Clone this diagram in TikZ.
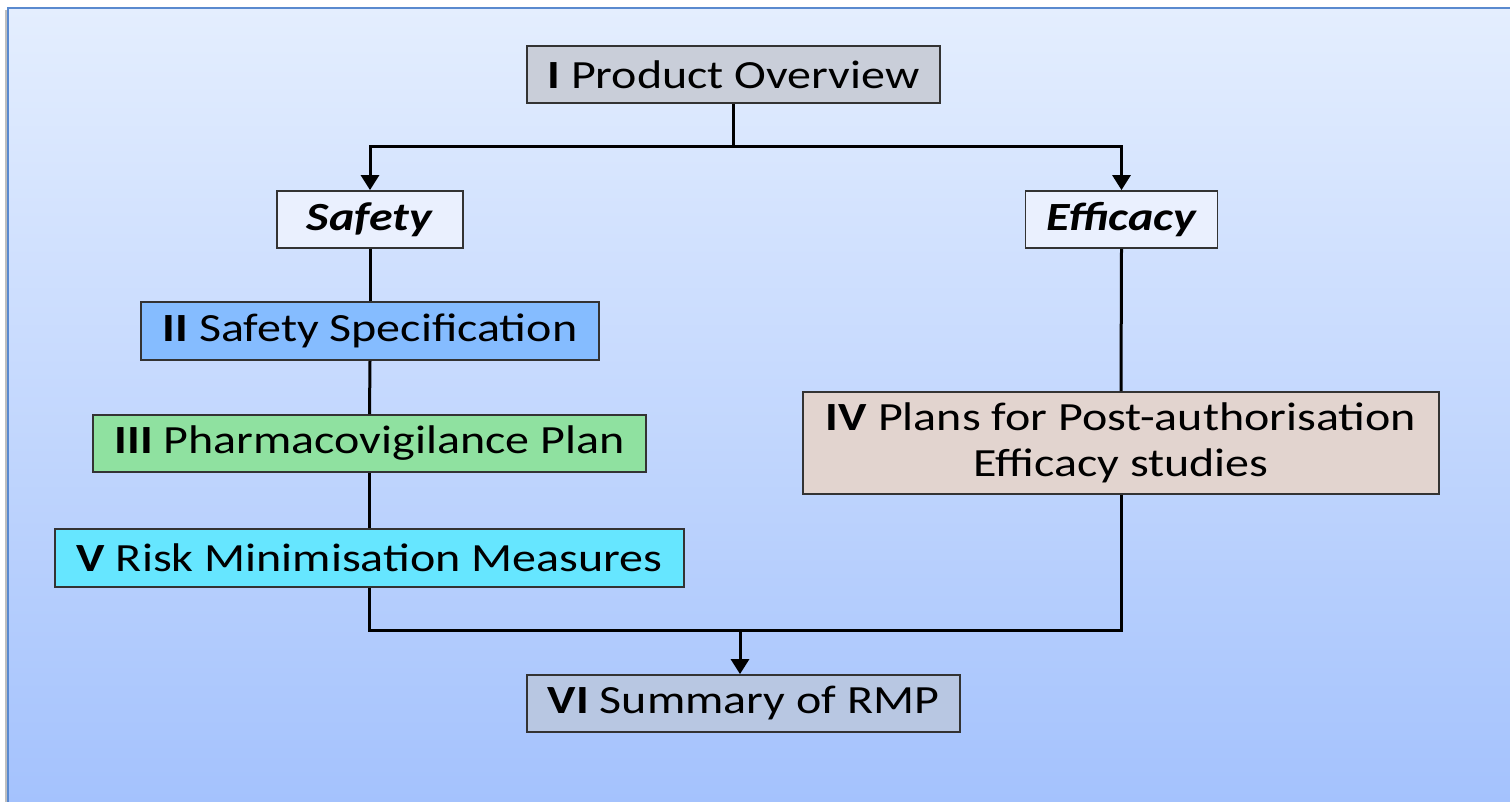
\documentclass[tikz,border=0pt]{standalone}
\usepackage{fontspec}
\setmainfont{Carlito}[FakeStretch=1.2]
\usetikzlibrary{arrows.meta}
\definecolor{bgtop}{HTML}{E4EEFE}
\definecolor{bgbot}{HTML}{A4C2FD}
\definecolor{bgborder}{HTML}{5A8ACF}
\definecolor{cpo}{HTML}{C9CED9}
\definecolor{cse}{HTML}{EAF0FE}
\definecolor{cii}{HTML}{85BCFF}
\definecolor{ciii}{HTML}{8FE1A0}
\definecolor{cv}{HTML}{66E6FF}
\definecolor{civ}{HTML}{E2D4CF}
\definecolor{cvi}{HTML}{B8C7E2}
\definecolor{edge}{HTML}{333333}
\tikzset{
  box/.style={draw=edge, line width=1.8pt, rectangle, inner sep=0pt, align=center,
    font=\fontsize{40}{46}\selectfont, text=black},
  conn/.style={line width=3pt, draw=black},
  arr/.style={conn, -{Triangle[width=18pt,length=15pt]}}
}
\begin{document}
\begin{tikzpicture}[x=1pt,y=-1pt]
\useasboundingbox (0,0) rectangle (1510,801);
\fill[white] (0,0) rectangle (1510,801);
\fill[black!25] (5,10) rectangle (1512,803);
\shade[top color=bgtop, bottom color=bgbot] (8,8) rectangle (1512,803);
\draw[bgborder, line width=2.5pt] (8,803) -- (8,8) -- (1512,8);

\node[box, fill=cpo, minimum width=413pt, minimum height=57pt] (po) at (733.5,74.5) {\textbf{I} Product Overview};
\node[box, fill=cse, minimum width=186pt, minimum height=57pt] (safety) at (370,219.5) {\textbf{\textit{Safety}}};
\node[box, fill=cse, minimum width=192pt, minimum height=57pt] (efficacy) at (1121.5,219.5) {\textbf{\textit{Efficacy}}};
\node[box, fill=cii, minimum width=458pt, minimum height=58pt] (ii) at (370,331) {\textbf{II} Safety Specification};
\node[box, fill=ciii, minimum width=553pt, minimum height=57pt] (iii) at (369.5,443.5) {\textbf{III} Pharmacovigilance Plan};
\node[box, fill=cv, minimum width=629pt, minimum height=58pt] (v) at (369.5,558) {\textbf{V} Risk Minimisation Measures};
\node[box, fill=civ, minimum width=636pt, minimum height=102pt] (iv) at (1121,443) {\textbf{IV} Plans for Post-authorisation\\Efficacy studies};
\node[box, fill=cvi, minimum width=433pt, minimum height=57pt] (vi) at (743.5,703.5) {\textbf{VI} Summary of RMP};

\coordinate (j1) at (733.5,146);
\coordinate (j2) at (740,630);
\draw[conn] (po.south) -- (j1);
\draw[arr] (j1) -| (safety.north);
\draw[arr] (j1) -| (efficacy.north);
\draw[conn] (safety.south) -- (ii.north);
\draw[conn] (ii.south) -- (iii.north);
\draw[conn] (iii.south) -- (v.north);
\draw[conn] (efficacy.south) -- (iv.north);
\draw[conn] (v.south) |- (j2);
\draw[conn] (iv.south) |- (j2);
\draw[arr] (j2) -- (j2 |- vi.north);
\end{tikzpicture}
\end{document}
